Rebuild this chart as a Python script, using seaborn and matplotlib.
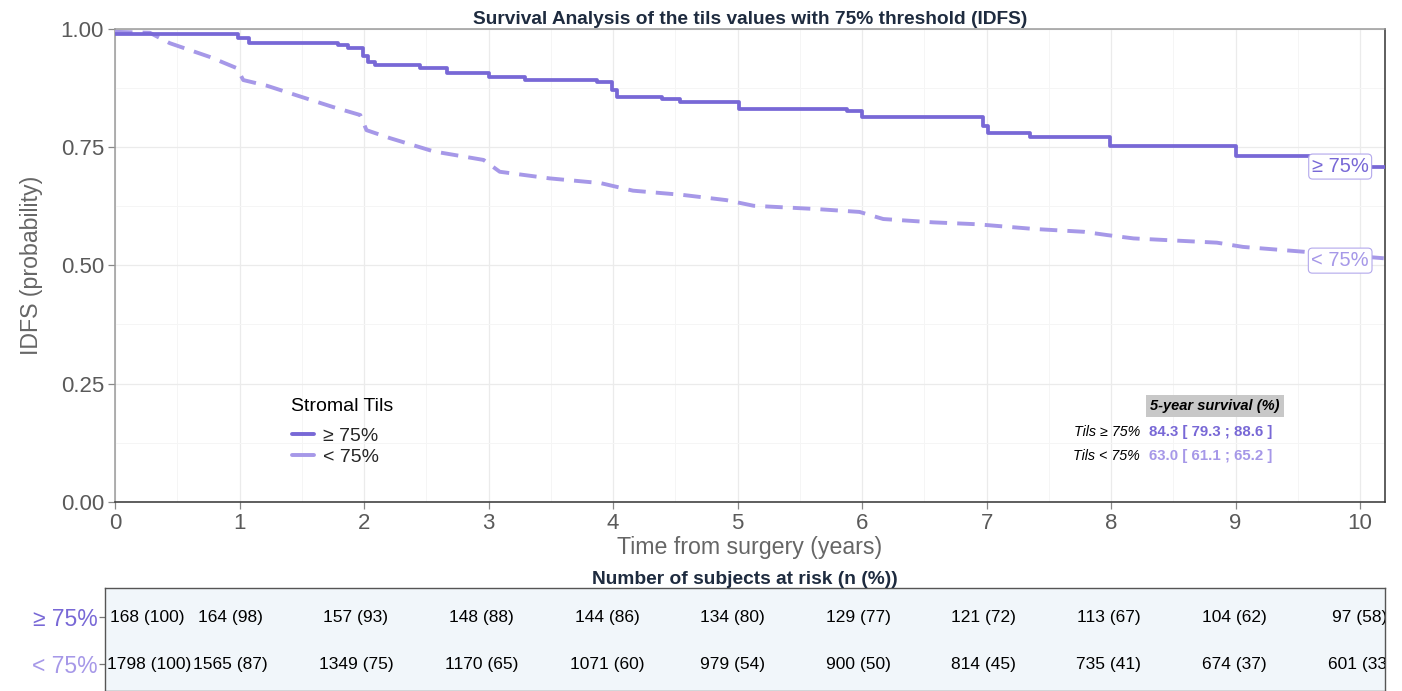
import numpy as np
import pandas as pd
import seaborn as sns
import matplotlib
matplotlib.use("Agg")
import matplotlib.pyplot as plt
from matplotlib.lines import Line2D

# ---------------- data ----------------
groups = ["≥ 75%", "< 75%"]

time_hi = [0, 0.99, 1.08, 1.79, 1.87, 1.99, 2.03, 2.09, 2.45, 2.67, 3.0, 3.29, 3.87,
           3.99, 4.03, 4.39, 4.54, 5.01, 5.88, 6.0, 6.97, 7.01, 7.35, 7.99, 9.0, 9.85, 10.2]
surv_hi = [0.989, 0.980, 0.971, 0.966, 0.959, 0.942, 0.930, 0.924, 0.917, 0.906, 0.898,
           0.892, 0.887, 0.872, 0.857, 0.851, 0.845, 0.831, 0.827, 0.813, 0.795, 0.779,
           0.772, 0.752, 0.731, 0.709, 0.709]

time_lo = [0, 0.28, 0.44, 0.76, 0.98, 1.03, 1.22, 1.49, 1.75, 1.97, 2.02, 2.21, 2.56,
           2.96, 3.09, 3.49, 3.9, 4.16, 4.56, 4.91, 5.13, 5.64, 5.98, 6.17, 6.57, 6.92,
           7.38, 7.78, 7.97, 8.18, 8.85, 9.06, 9.49, 10.19]
surv_lo = [0.994, 0.992, 0.970, 0.941, 0.917, 0.892, 0.880, 0.857, 0.835, 0.818, 0.786,
           0.769, 0.741, 0.723, 0.698, 0.684, 0.674, 0.658, 0.649, 0.638, 0.626, 0.619,
           0.613, 0.598, 0.591, 0.587, 0.577, 0.571, 0.564, 0.557, 0.548, 0.539, 0.530,
           0.515]

risk_times = [0, 1, 2, 3, 4, 5, 6, 7, 8, 9, 10]
risk_n_hi = [168, 164, 157, 148, 144, 134, 129, 121, 113, 104, 97]
risk_p_hi = [100, 98, 93, 88, 86, 80, 77, 72, 67, 62, 58]
risk_n_lo = [1798, 1565, 1349, 1170, 1071, 979, 900, 814, 735, 674, 601]
risk_p_lo = [100, 87, 75, 65, 60, 54, 50, 45, 41, 37, 33]

fy_labels = ["Tils ≥ 75%", "Tils < 75%"]
fy_est = [84.3, 63.0]
fy_low = [79.3, 61.1]
fy_high = [88.6, 65.2]

x_ticks = [0, 1, 2, 3, 4, 5, 6, 7, 8, 9, 10]
y_ticks = [0.0, 0.25, 0.5, 0.75, 1.0]

# ---------------- style ----------------
sns.set_theme(style="white")
plt.rcParams["font.family"] = ["Liberation Sans", "DejaVu Sans"]

c_hi = "#7868D6"
c_lo = "#A698E8"
c_box_hi = "#B3A8EC"
grey_txt = "#5A5A5A"

W, H = 1402, 691
fig = plt.figure(figsize=(W / 100, H / 100), dpi=100)
fig.patch.set_facecolor("white")

ax = fig.add_axes([115 / W, 1 - 501.7 / H, 1270 / W, 472.7 / H])

df_hi = pd.DataFrame({"time": time_hi, "surv": surv_hi, "group": groups[0]})
df_lo = pd.DataFrame({"time": time_lo, "surv": surv_lo, "group": groups[1]})

sns.lineplot(data=df_lo, x="time", y="surv", ax=ax, color=c_lo, lw=2.8,
             estimator=None, sort=False, legend=False, dashes=False,
             linestyle=(0, (4.5, 2.6)), zorder=3)
sns.lineplot(data=df_hi, x="time", y="surv", ax=ax, color=c_hi, lw=2.7,
             estimator=None, sort=False, legend=False, drawstyle="steps-post",
             zorder=4)

ax.set_xlim(0, 10.2)
ax.set_ylim(0, 1.0)
ax.set_xticks(x_ticks)
ax.set_yticks(y_ticks)
ax.set_yticklabels([f"{v:.2f}" for v in y_ticks])
ax.set_xticks(np.arange(0.5, 10.2, 1.0), minor=True)
ax.set_yticks(np.arange(0.125, 1.0, 0.25), minor=True)
ax.grid(which="major", color="#EBEBEB", lw=0.9)
ax.grid(which="minor", color="#F5F5F5", lw=0.7)
ax.set_axisbelow(True)
ax.tick_params(which="major", length=5, width=0.9, color="#888888",
               labelsize=16, labelcolor=grey_txt, pad=3, left=True, bottom=True)
ax.tick_params(which="minor", length=0)
for side, col in [("top", "#9A9A9A"), ("left", "#9A9A9A"),
                  ("bottom", "#333333"), ("right", "#333333")]:
    ax.spines[side].set_visible(True)
    ax.spines[side].set_color(col)
    ax.spines[side].set_linewidth(1.1)

ax.set_xlabel("Time from surgery (years)", fontsize=16.7, color="#666666")
ax.set_ylabel("IDFS (probability)", fontsize=16.7, color="#666666")
ax.xaxis.set_label_coords(0.5, -0.072)
ax.yaxis.set_label_coords(-0.0565, 0.5)

fig.text(750 / W, 1 - 19.5 / H,
         "Survival Analysis of the tils values with 75% threshold (IDFS)",
         ha="center", va="center", fontsize=13.8, fontweight="bold", color="#1E2B3F")

# curve-end labels
ax.text(9.84, surv_hi[-1], groups[0], ha="center", va="center", fontsize=14.5,
        color=c_hi, zorder=6,
        bbox=dict(boxstyle="round,pad=0.15,rounding_size=0.2", fc="white",
                  ec=c_box_hi, lw=0.8))
ax.text(9.84, surv_lo[-1] - 0.005, groups[1], ha="center", va="center", fontsize=14.5,
        color=c_lo, zorder=6,
        bbox=dict(boxstyle="round,pad=0.15,rounding_size=0.2", fc="white",
                  ec=c_box_hi, lw=0.8))

# legend
fig.text(291 / W, 1 - 407 / H, "Stromal Tils", ha="left", va="center",
         fontsize=14, color="black")
handles = [Line2D([0], [0], color=c_hi, lw=2.8),
           Line2D([0], [0], color=c_lo, lw=2.8)]
leg = fig.legend(handles, groups, loc="upper left",
                 bbox_to_anchor=(292 / W, 1 - 427 / H), frameon=False,
                 fontsize=14, handlelength=1.15, handletextpad=0.45,
                 labelspacing=0.2, borderpad=0, borderaxespad=0)

# 5-year survival box
fig.text(1215 / W, 1 - 406 / H, "5-year survival (%)", ha="center", va="center",
         fontsize=10.5, fontweight="bold", fontstyle="italic", color="black",
         bbox=dict(boxstyle="square,pad=0.3", fc="#C8C8C8", ec="none"))
row_y = [432, 456]
row_cols = [c_hi, c_lo]
for lab, e, lo, hi, yy, cc in zip(fy_labels, fy_est, fy_low, fy_high, row_y, row_cols):
    fig.text(1140 / W, 1 - yy / H, lab, ha="right", va="center", fontsize=10.3,
             fontstyle="italic", color="black")
    fig.text(1149 / W, 1 - yy / H, f"{e:.1f} [ {lo:.1f} ; {hi:.1f} ]", ha="left",
             va="center", fontsize=10.8, fontweight="bold", color=cc)

# ---------------- risk table ----------------
axt = fig.add_axes([105 / W, 0, 1280 / W, 103 / H])
axt.set_facecolor("#F1F6FA")
axt.set_xlim(0, 10.2)
axt.set_ylim(1.574, -0.618)
axt.set_xticks([])
axt.set_yticks([0, 1])
axt.set_yticklabels(groups, fontsize=16.5)
for lbl, cc in zip(axt.get_yticklabels(), [c_hi, c_lo]):
    lbl.set_color(cc)
axt.tick_params(axis="y", length=4, width=0.9, color="#777777", pad=1, left=True)
for side in ["top", "left", "right", "bottom"]:
    axt.spines[side].set_visible(True)
    axt.spines[side].set_color("#555555")
    axt.spines[side].set_linewidth(1.0)
axt.grid(False)

for row, (ns, ps) in enumerate([(risk_n_hi, risk_p_hi), (risk_n_lo, risk_p_lo)]):
    for t, n, p in zip(risk_times, ns, ps):
        if t == 0:
            axt.text(0.012 + 0.03 * (1 - row), row, f"{n} ({p})", ha="left",
                     va="center", fontsize=12.5, color="black", clip_on=True)
        else:
            axt.text(t, row, f"{n} ({p})", ha="center", va="center", fontsize=12.5,
                     color="black", clip_on=True)

fig.text(745 / W, 1 - 579 / H, "Number of subjects at risk (n (%))", ha="center",
         va="center", fontsize=13.8, fontweight="bold", color="#1E2B3F")

fig.savefig("out.png", dpi=100, facecolor="white")
